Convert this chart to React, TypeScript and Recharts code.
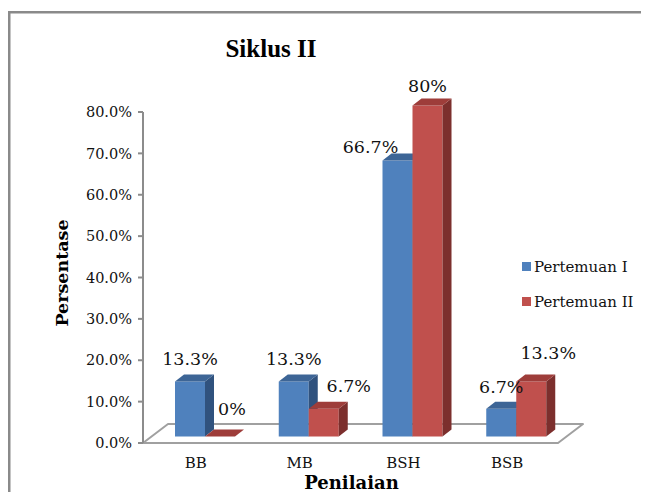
import React from 'react';
import { BarChart, Bar, XAxis, YAxis, LabelList, Legend } from 'recharts';

const categories = ['BB', 'MB', 'BSH', 'BSB'];
const pertemuan1 = [13.3, 13.3, 66.7, 6.7];
const pertemuan2 = [0, 6.7, 80, 13.3];
const seriesNames = ['Pertemuan I', 'Pertemuan II'];
const yTicks = [0, 10, 20, 30, 40, 50, 60, 70, 80];

const data = categories.map((c, i) => ({ cat: c, p1: pertemuan1[i], p2: pertemuan2[i] }));

// layout constants
const W = 641;
const H = 484;
const M = { top: 104, right: 90, bottom: 19, left: 0 };
const AXIS_X = 135;
const BASE_Y = H - M.bottom - 30;
const SHIFT_X = 9;
const SHIFT_Y = -6.5;
const DX = 9;
const DY = -7;
const FLOOR_DX = 25;
const FLOOR_DY = -19;

// label nudges (layout only)
const p1LabelDx = [0, 0, -27, 0];
const p1LabelDy = [0, 0, 8, 0];
const p2LabelDx = [12, 25, 0, 17];
const p2LabelDy = [-6, -1, 2, -6];

const BLUE = { front: '#4F81BD', top: '#3D6596', side: '#30527E' };
const RED = { front: '#C0504D', top: '#9E3D3A', side: '#7C2F2D' };

const SERIF = '"DejaVu Serif", serif';

const make3D = (col: { front: string; top: string; side: string }) => (p: any) => {
  const x = p.x + SHIFT_X;
  const y = p.y + SHIFT_Y;
  const w = p.width;
  const h = Math.max(0, p.height);
  return (
    <g>
      {h > 0 && <rect x={x} y={y} width={w} height={h} fill={col.front} />}
      {h > 0 && (
        <polygon
          points={`${x + w},${y} ${x + w + DX},${y + DY} ${x + w + DX},${y + h + DY} ${x + w},${y + h}`}
          fill={col.side}
        />
      )}
      <polygon
        points={`${x},${y} ${x + DX},${y + DY} ${x + w + DX},${y + DY} ${x + w},${y}`}
        fill={col.top}
      />
    </g>
  );
};

const makeLabel = (dxs: number[], dys: number[]) => (p: any) => {
  const vb = p.viewBox || {};
  const x = vb.x ?? p.x;
  const y = vb.y ?? p.y;
  const w = vb.width ?? p.width;
  const idx = p.index ?? 0;
  return (
    <text
      x={x + w / 2 + SHIFT_X + dxs[idx]}
      y={y + SHIFT_Y - 22 + dys[idx]}
      textAnchor="middle"
      dominantBaseline="central"
      fontFamily={SERIF}
      fontSize={17.5}
      fill="#111"
    >
      {`${p.value}%`}
    </text>
  );
};

const LegendContent = () => (
  <div style={{ fontFamily: SERIF, fontSize: 15, color: '#111' }}>
    {seriesNames.map((n, i) => (
      <div key={n} style={{ display: 'flex', alignItems: 'center', height: 35 }}>
        <span
          style={{
            display: 'inline-block',
            width: 9,
            height: 9,
            background: i === 0 ? BLUE.front : RED.front,
            marginRight: 3,
          }}
        />
        <span>{n}</span>
      </div>
    ))}
  </div>
);

export default function App() {
  const fl = AXIS_X;
  const fr = W - M.right - 1;
  const fy = BASE_Y;
  return (
    <div style={{ position: 'relative', width: W, height: H, overflow: 'hidden' }}>
      <svg width={W} height={H} style={{ position: 'absolute', left: 0, top: 0 }}>
        <rect x={1.25} y={4.25} width={800} height={700} fill="#fff" stroke="#8a8a8a" strokeWidth={2.5} />
        <polygon
          points={`${fl},${fy} ${fr},${fy} ${fr + FLOOR_DX},${fy + FLOOR_DY} ${fl + FLOOR_DX},${fy + FLOOR_DY}`}
          fill="#fff"
          stroke="#a0a0a0"
          strokeWidth={2}
          strokeLinejoin="round"
        />
        <text x={263} y={40} textAnchor="middle" dominantBaseline="central" fontFamily='"Liberation Serif", serif' fontWeight="bold" fontSize={25} fill="#000">
          Siklus II
        </text>
        <text x={343.5} y={474} textAnchor="middle" dominantBaseline="central" fontFamily={SERIF} fontWeight="bold" fontSize={18} fill="#000">
          Penilaian
        </text>
        <text
          x={54}
          y={265}
          transform="rotate(-90 54 265)"
          textAnchor="middle"
          dominantBaseline="central"
          fontFamily={SERIF}
          fontWeight="bold"
          fontSize={17.5}
          fill="#000"
        >
          Persentase
        </text>
      </svg>
      <BarChart width={W} height={H} data={data} margin={M} barGap={0} barSize={30}>
        <XAxis
          dataKey="cat"
          axisLine={false}
          tickLine={false}
          tickSize={0}
          tickMargin={14}
          height={30}
          padding={{ left: 1, right: 0 }}
          tick={{ fontFamily: SERIF, fontSize: 15, fill: '#111' }}
        />
        <YAxis
          width={AXIS_X}
          domain={[0, 80]}
          ticks={yTicks}
          interval={0}
          tickFormatter={(v: number) => `${v.toFixed(1)}%`}
          axisLine={{ stroke: '#8c8c8c', strokeWidth: 2 }}
          tickLine={{ stroke: '#8c8c8c', strokeWidth: 2 }}
          tickSize={5}
          tickMargin={6}
          tick={{ fontFamily: SERIF, fontSize: 14.5, fill: '#111' }}
        />
        <Legend
          layout="vertical"
          align="center"
          verticalAlign="middle"
          wrapperStyle={{ left: 514, top: 241, width: 127 }}
          content={LegendContent}
        />
        <Bar dataKey="p1" name={seriesNames[0]} fill={BLUE.front} shape={make3D(BLUE)} isAnimationActive={false}>
          <LabelList dataKey="p1" content={makeLabel(p1LabelDx, p1LabelDy)} />
        </Bar>
        <Bar dataKey="p2" name={seriesNames[1]} fill={RED.front} shape={make3D(RED)} isAnimationActive={false}>
          <LabelList dataKey="p2" content={makeLabel(p2LabelDx, p2LabelDy)} />
        </Bar>
      </BarChart>
    </div>
  );
}
